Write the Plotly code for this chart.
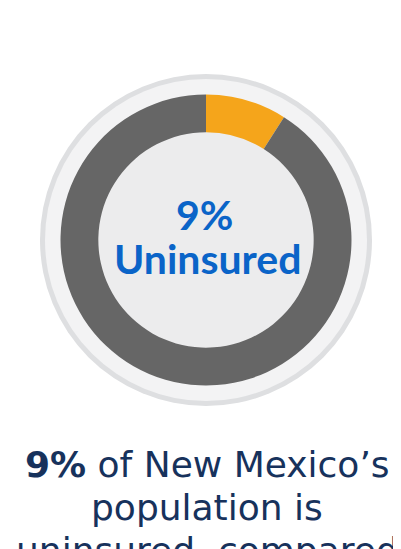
import plotly.graph_objects as go

# Data
labels = ["Uninsured", "Insured"]
values = [9, 91]
slice_colors = ["#f5a51b", "#666666"]
center_pct = "9%"
center_label = "Uninsured"
caption_lines = ["<b>9%</b> of New Mexico’s", "population is", "uninsured, compared"]

OFF = 8  # page body margin
W, H = 401 - OFF, 549 - OFF
cx, cy = 206, 240  # page px from top-left
r_out = 145.5
hole = 0.74

def px_x(x):
    return (x - OFF) / W

def px_y(y):
    return 1 - (y - OFF) / H

fig = go.Figure()
fig.add_trace(go.Pie(
    labels=labels, values=values, sort=False, direction="clockwise", rotation=0,
    hole=hole, marker=dict(colors=slice_colors, line=dict(width=0)),
    textinfo="none", hoverinfo="skip",
    domain=dict(x=[px_x(cx - r_out), px_x(cx + r_out)],
                y=[px_y(cy + r_out), px_y(cy - r_out)]),
))

shapes = []
for r, col in [(166, "#dedfe1"), (161, "#f3f3f4"), (109, "#ececed")]:
    shapes.append(dict(type="circle", xref="paper", yref="paper", layer="below",
                       x0=px_x(cx - r), x1=px_x(cx + r),
                       y0=px_y(cy + r), y1=px_y(cy - r),
                       fillcolor=col, line=dict(width=0)))

annotations = [
    dict(text=f"<b>{center_pct}</b>", x=px_x(204), y=px_y(215), xref="paper", yref="paper",
         showarrow=False, font=dict(family="Lato", size=41, color="#0a64c8"),
         xanchor="center", yanchor="middle"),
    dict(text=f"<b>{center_label}</b>", x=px_x(207), y=px_y(258), xref="paper", yref="paper",
         showarrow=False, font=dict(family="Lato", size=41, color="#0a64c8"),
         xanchor="center", yanchor="middle"),
]
for i, (line, yc) in enumerate(zip(caption_lines, [464, 507, 550])):
    annotations.append(dict(text=line, x=px_x(207), y=px_y(yc), xref="paper", yref="paper",
                            showarrow=False, font=dict(family="DejaVu Sans", size=36, color="#17325c"),
                            xanchor="center", yanchor="middle"))

fig.update_layout(
    width=W, height=H, margin=dict(l=0, r=0, t=0, b=0),
    paper_bgcolor="white", plot_bgcolor="white", showlegend=False,
    shapes=shapes, annotations=annotations,
)
fig.write_html("out.html")
